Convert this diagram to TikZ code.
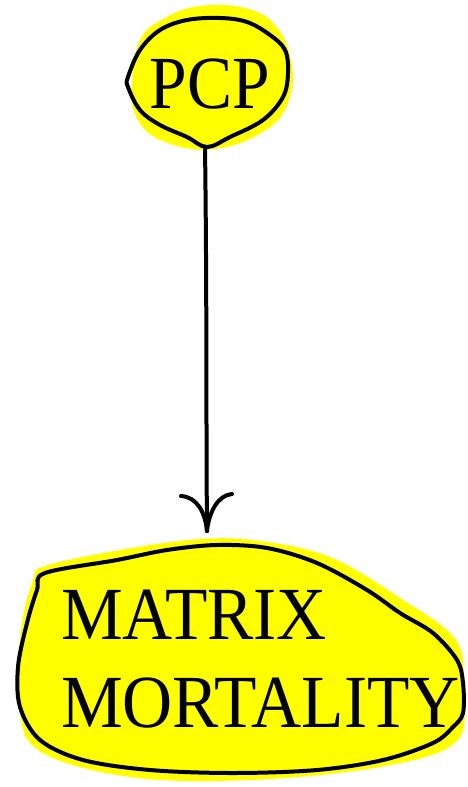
\documentclass[tikz,border=0pt]{standalone}
\usepackage{fontspec}
\setmainfont{Liberation Serif}
\definecolor{hl}{RGB}{255,255,0}
\begin{document}
\begin{tikzpicture}[x=1pt,y=-1pt,
  outline/.style={draw=black,line width=4pt,line join=round,line cap=round},
  hilite/.style={fill=hl,draw=none},
  conn/.style={draw=black,line width=4pt,line cap=round,line join=round},
  bigtext/.style={inner sep=0pt,outer sep=0pt,font=\fontsize{75}{88}\selectfont}]
\useasboundingbox (0,0) rectangle (467,787);
% PCP blob
\fill[hilite] plot[smooth cycle,tension=0.7] coordinates {(140,40) (165,18) (200,6) (245,8) (275,25) (291,60) (289,100) (266,130) (215,149) (165,142) (138,120) (132,85)};
\draw[outline] plot[smooth cycle,tension=0.6] coordinates {(128,77) (140,50) (160,30) (187,20) (220,18) (247,22) (270,35) (285,50) (288,73) (283,97) (263,120) (230,137) (207,147) (187,137) (160,125) (140,110) (128,87)};
\node[bigtext,anchor=base] (pcp) at (210,108) {\scalebox{0.9}[1]{PCP}};
% MATRIX MORTALITY blob
\fill[hilite] plot[smooth cycle,tension=0.6] coordinates {(45,566) (120,550) (200,539) (260,541) (330,557) (400,598) (456,640) (463,690) (456,742) (380,767) (250,780) (130,777) (38,750) (19,700) (21,630) (33,580)};
\draw[outline] plot[smooth cycle,tension=0.55] coordinates {(45,573) (117,560) (167,550) (217,545) (267,548) (317,563) (367,590) (400,613) (433,633) (457,660) (463,683) (463,713) (453,727) (433,743) (383,760) (317,770) (233,773) (150,770) (83,760) (40,740) (20,707) (18,667) (27,623) (37,590)};
\node[bigtext,anchor=base west,align=left] (mm) at (61,727) {\scalebox{0.925}[1]{MATRIX}\\\scalebox{0.925}[1]{MORTALITY}};
% connector
\coordinate (src) at (205,147);
\coordinate (tip) at (207,531);
\draw[conn] (src) .. controls (207,300) and (206,420) .. (tip);
\draw[conn] (tip) .. controls (205,512) and (197,497) .. (181,496);
\draw[conn] (tip) .. controls (209,512) and (218,495) .. (232,494);
\end{tikzpicture}
\end{document}
